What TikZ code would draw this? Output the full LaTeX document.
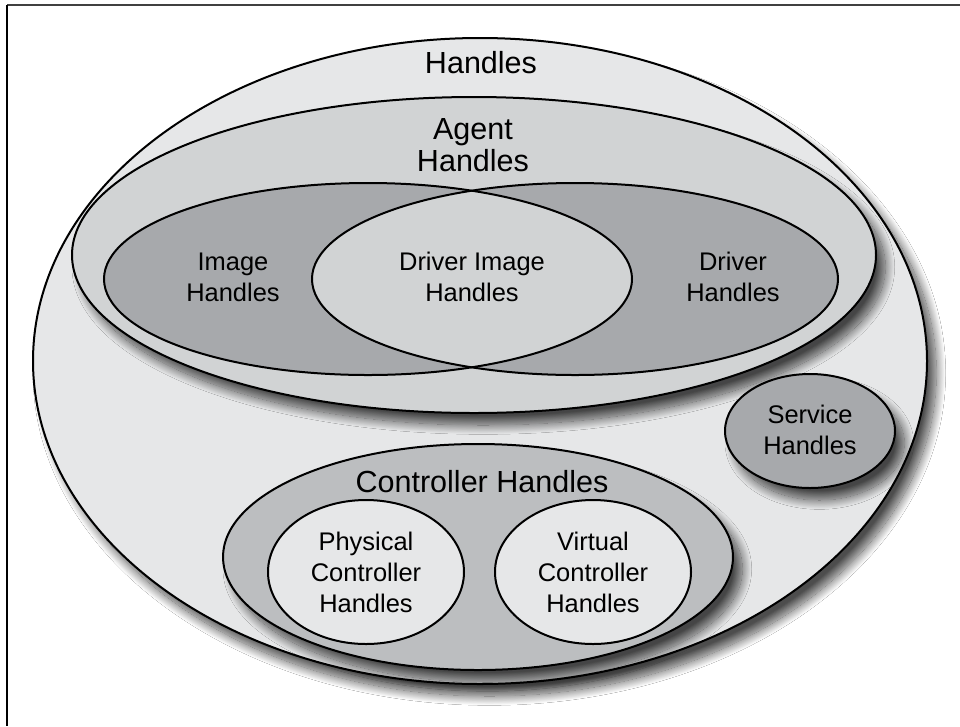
\documentclass[tikz,border=0pt]{standalone}
\usepackage{fontspec}
\setmainfont{Liberation Sans}
\usetikzlibrary{shadows.blur}
\definecolor{outerc}{HTML}{E6E7E8}
\definecolor{midc}{HTML}{D1D3D4}
\definecolor{darkc}{HTML}{A7A9AC}
\definecolor{ctrlc}{HTML}{BCBEC0}
\begin{document}
\begin{tikzpicture}[x=0.75pt,y=-0.75pt,
  ring/.style={draw=black, line width=1.5pt},
  shad/.style={blur shadow={shadow xshift=7pt, shadow yshift=-9pt, shadow blur radius=7pt, shadow blur steps=24, shadow opacity=70}},
  big/.style={font=\fontsize{22.9}{24}\selectfont, align=center, inner sep=0pt},
  small/.style={font=\fontsize{19.1}{23.3}\selectfont, align=center, inner sep=0pt}]
\useasboundingbox (0,0) rectangle (960,726);
\fill[white] (0,0) rectangle (960,726);
\draw[line width=1.5pt, black!75] (7,5) -- (960,5);
\draw[line width=1.5pt] (7,5) -- (7,726);
% outer
\draw[ring, fill=outerc, shad] (480,361) ellipse [x radius=447, y radius=323];
% agent
\draw[ring, fill=midc, shad] (474,255) ellipse [x radius=402, y radius=158];
% image and driver
\fill[darkc] (368,279) ellipse [x radius=264, y radius=96];
\fill[darkc] (575,279) ellipse [x radius=263, y radius=96];
\begin{scope}
  \clip (368,279) ellipse [x radius=264, y radius=96];
  \fill[midc] (575,279) ellipse [x radius=263, y radius=96];
\end{scope}
\draw[ring] (368,279) ellipse [x radius=264, y radius=96];
\draw[ring] (575,279) ellipse [x radius=263, y radius=96];
% service
\draw[ring, fill=darkc, shad] (810,431) ellipse [x radius=85, y radius=57];
% controller
\draw[ring, fill=ctrlc, shad] (478,557) ellipse [x radius=255, y radius=113];
\draw[ring, fill=outerc] (366,572) ellipse [x radius=98, y radius=72];
\draw[ring, fill=outerc] (593,572) ellipse [x radius=98, y radius=72];
% labels
\node[big] (handles) at (481,63) {Handles};
\node[big] (agent) at (473,145) {Agent\\Handles};
\node[small] (image) at (233,277) {Image\\Handles};
\node[small] (drvimg) at (472,277) {Driver Image\\Handles};
\node[small] (driver) at (733,277) {Driver\\Handles};
\node[small] (service) at (810,430) {Service\\Handles};
\node[big] (ctrl) at (482,482) {Controller Handles};
\node[small] (phys) at (366,572) {Physical\\Controller\\Handles};
\node[small] (virt) at (593,572) {Virtual\\Controller\\Handles};
\end{tikzpicture}
\end{document}
